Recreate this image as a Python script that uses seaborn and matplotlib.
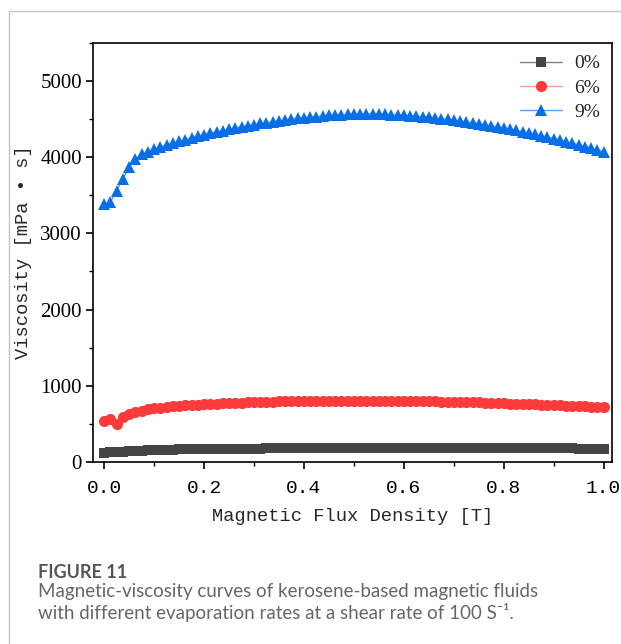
import numpy as np
import pandas as pd
import matplotlib
matplotlib.use("Agg")
import matplotlib.pyplot as plt
from matplotlib.lines import Line2D
from matplotlib.ticker import MultipleLocator
import seaborn as sns

# magnetic flux density (T), rheometer sweep
flux = [0.0, 0.0125, 0.025, 0.0375, 0.05, 0.0625, 0.075, 0.0875, 0.1, 0.1125,
        0.125, 0.1375, 0.15, 0.1625, 0.175, 0.1875, 0.2, 0.2125, 0.225, 0.2375,
        0.25, 0.2625, 0.275, 0.2875, 0.3, 0.3125, 0.325, 0.3375, 0.35, 0.3625,
        0.375, 0.3875, 0.4, 0.4125, 0.425, 0.4375, 0.45, 0.4625, 0.475, 0.4875,
        0.5, 0.5125, 0.525, 0.5375, 0.55, 0.5625, 0.575, 0.5875, 0.6, 0.6125,
        0.625, 0.6375, 0.65, 0.6625, 0.675, 0.6875, 0.7, 0.7125, 0.725, 0.7375,
        0.75, 0.7625, 0.775, 0.7875, 0.8, 0.8125, 0.825, 0.8375, 0.85, 0.8625,
        0.875, 0.8875, 0.9, 0.9125, 0.925, 0.9375, 0.95, 0.9625, 0.975, 0.9875,
        1.0]

# viscosity (mPa s) for each evaporation rate
visc_0 = [115, 122, 128, 134, 139, 143, 147, 150, 153, 155,
          157, 159, 161, 162, 164, 165, 166, 167, 168, 169,
          170, 171, 172, 173, 174, 174, 175, 176, 176, 177,
          177, 178, 178, 179, 179, 180, 180, 180, 181, 181,
          181, 182, 182, 182, 182, 182, 183, 183, 183, 183,
          183, 183, 183, 183, 183, 183, 182, 182, 182, 182,
          181, 181, 181, 180, 180, 180, 179, 179, 178, 178,
          177, 177, 176, 176, 175, 175, 174, 173, 173, 172,
          171]
visc_6 = [530, 560, 495, 590, 625, 650, 672, 688, 700, 710,
          719, 727, 734, 740, 746, 751, 756, 760, 764, 768,
          772, 775, 778, 781, 784, 786, 788, 790, 792, 794,
          795, 796, 797, 798, 799, 800, 801, 801, 802, 802,
          802, 802, 802, 801, 801, 800, 800, 799, 798, 797,
          796, 795, 794, 792, 791, 789, 787, 785, 783, 781,
          779, 776, 773, 771, 768, 765, 762, 759, 756, 753,
          750, 746, 743, 740, 737, 734, 731, 728, 725, 722,
          719]
visc_9 = [3390, 3410, 3560, 3720, 3870, 3980, 4040, 4075, 4105, 4135,
          4160, 4185, 4210, 4230, 4255, 4275, 4295, 4315, 4335, 4350,
          4370, 4385, 4400, 4415, 4430, 4445, 4455, 4468, 4480, 4490,
          4500, 4510, 4520, 4528, 4536, 4543, 4550, 4555, 4560, 4564,
          4570, 4571, 4571, 4570, 4568, 4565, 4561, 4557, 4552, 4546,
          4540, 4533, 4525, 4516, 4507, 4498, 4488, 4477, 4466, 4454,
          4441, 4428, 4414, 4400, 4385, 4370, 4354, 4337, 4320, 4302,
          4284, 4265, 4246, 4226, 4206, 4185, 4164, 4142, 4120, 4097,
          4074]

labels = ["0%", "6%", "9%"]
series = [visc_0, visc_6, visc_9]

sns.set_theme(style="ticks")
plt.rcParams["font.family"] = ["Liberation Serif", "DejaVu Serif"]

fig = plt.figure(figsize=(6.21, 6.44), dpi=100)
ax = fig.add_axes([0.150, 0.283, 0.835, 0.650])

styles = {
    "0%": dict(marker="s", ms=7, mfc="#444444", line="#808080"),
    "6%": dict(marker="o", ms=8, mfc="#ff3a3a", line="#ff9a9a"),
    "9%": dict(marker="^", ms=9, mfc="#0a6fe6", line="#5a9ef0"),
}

for lab, vals in zip(labels, series):
    st = styles[lab]
    sns.lineplot(x=flux, y=vals, ax=ax, label=lab, color=st["line"], lw=1,
                 marker=st["marker"], markersize=st["ms"],
                 markerfacecolor=st["mfc"], markeredgecolor=st["mfc"],
                 markeredgewidth=0)

ax.set_xlim(-0.022, 1.016)
ax.set_ylim(0, 5500)
ax.xaxis.set_major_locator(MultipleLocator(0.2))
ax.xaxis.set_minor_locator(MultipleLocator(0.1))
ax.yaxis.set_major_locator(MultipleLocator(1000))
ax.yaxis.set_minor_locator(MultipleLocator(500))
ax.set_xticks([0, 0.2, 0.4, 0.6, 0.8, 1.0])
ax.set_xticklabels(["0.0", "0.2", "0.4", "0.6", "0.8", "1.0"],
                   family="Liberation Mono", fontsize=14)
for t in ax.get_yticklabels():
    t.set_fontsize(15)
    t.set_family("Liberation Serif")

for sp in ax.spines.values():
    sp.set_visible(True)
    sp.set_color("black")
    sp.set_linewidth(1.2)
ax.tick_params(which="major", direction="out", length=5, width=1.2, colors="black",
               top=False, right=False, pad=3)
ax.tick_params(axis="x", which="major", pad=8)
ax.tick_params(which="minor", direction="out", length=3, width=1.0, colors="black",
               top=False, right=False)

ax.set_xlabel("Magnetic Flux Density [T]", family="Liberation Mono", fontsize=13.5,
              labelpad=8)
ax.set_ylabel("Viscosity [mPa • s]", family="Liberation Mono", fontsize=13.5,
              labelpad=6)
ax.grid(False)

leg = ax.legend(loc="upper right", frameon=False, fontsize=14, handlelength=2.2,
                borderaxespad=0.2, labelspacing=0.35, handletextpad=0.6)

# journal page frame
fig.add_artist(Line2D([9 / 621, 1], [1 - 10.5 / 644, 1 - 10.5 / 644],
                      color="#c4c4c4", lw=1))
fig.add_artist(Line2D([9 / 621, 9 / 621], [0, 1 - 10.5 / 644],
                      color="#c4c4c4", lw=1))

fig.text(38 / 621, 1 - 572 / 644, "FIGURE 11", family=["Lato", "DejaVu Sans"],
         fontweight="bold", fontsize=13, color="#555555", va="center")
fig.text(38 / 621, 1 - 591 / 644,
         "Magnetic-viscosity curves of kerosene-based magnetic fluids",
         family=["Lato", "DejaVu Sans"], fontsize=13.5, color="#666666", va="center")
fig.text(38 / 621, 1 - 612 / 644,
         "with different evaporation rates at a shear rate of 100 S\u207b\u00b9.",
         family=["Lato", "DejaVu Sans"], fontsize=13.5, color="#666666", va="center")

fig.savefig("out.png", dpi=100)
